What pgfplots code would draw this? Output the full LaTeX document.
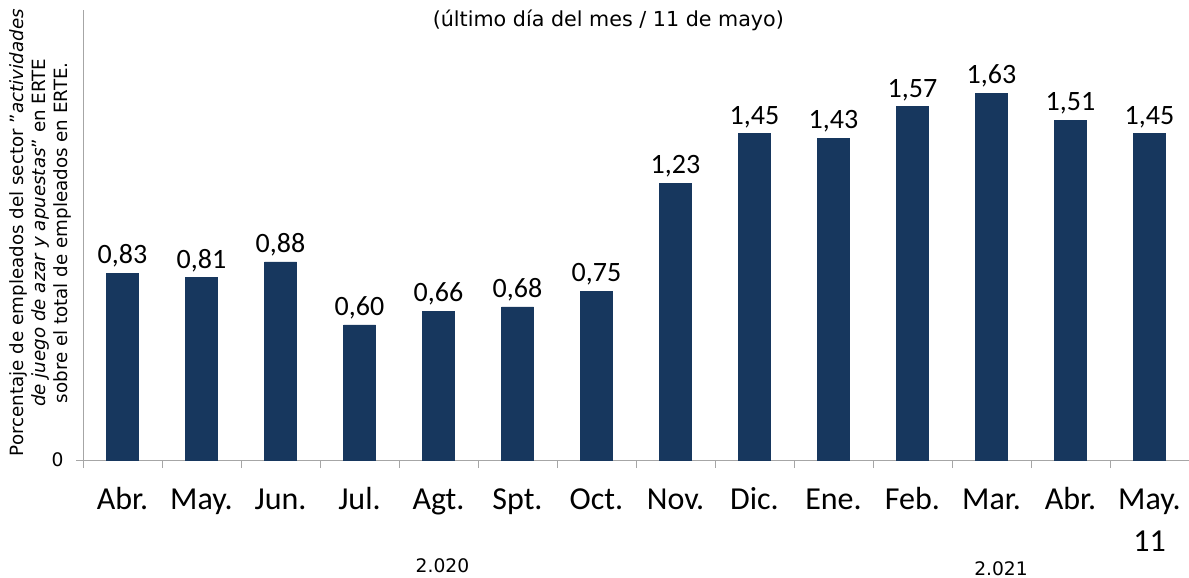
\documentclass[border=0pt]{standalone}
\usepackage{pgfplots}
\pgfplotsset{compat=1.18}
\usepackage{fontspec}
\setmainfont{DejaVu Sans}
\newfontfamily\carlito{Carlito}
\definecolor{barblue}{HTML}{17375E}
\definecolor{axisgray}{HTML}{A6A6A6}
\begin{document}
\begin{tikzpicture}
\begin{axis}[
  at={(62.25pt,88.5pt)}, anchor=south west,
  scale only axis, width=829.5pt, height=337.5pt,
  xmin=-0.5, xmax=13.5, ymin=0, ymax=2,
  ybar, bar width=24pt,
  axis x line*=bottom, axis y line*=left,
  axis line style={axisgray, line width=0.75pt},
  xtick={0,...,13},
  xticklabels={Abr.\strut,May.\strut,Jun.\strut,Jul.\strut,Agt.\strut,Spt.\strut,Oct.\strut,Nov.\strut,Dic.\strut,Ene.\strut,Feb.\strut,Mar.\strut,Abr.\strut,{May.\strut\\11}},
  xticklabel style={font=\carlito\fontsize{24}{32}\selectfont, align=center, yshift=-6pt},
  major x tick style={draw=none},
  minor xtick={-0.5,0.5,...,12.5},
  tick align=outside,
  minor tick length=6pt, major tick length=5pt,
  minor x tick style={axisgray, line width=0.75pt},
  major y tick style={axisgray, line width=0.75pt},
  ytick={0},
  yticklabel style={font=\fontsize{14}{16}\selectfont, xshift=-6pt, /pgf/number format/assume math mode=true},
  ylabel={Porcentaje de empleados del sector "\textit{actividades}\\ \textit{de juego de azar y apuestas}" en ERTE\\ sobre el total de empleados en ERTE.},
  ylabel style={align=center, font=\fontsize{13.7}{16.5}\selectfont, at={(axis description cs:-0.0389,0.505)}, anchor=center},
  clip=false,
  nodes near coords,
  nodes near coords style={font=\carlito\fontsize{21}{21}\selectfont, text=black, yshift=1pt,
    /pgf/number format/.cd, fixed, fixed zerofill, precision=2, use comma, assume math mode=true},
]
\addplot[fill=barblue, draw=barblue] coordinates {
(0,0.83) (1,0.81) (2,0.88) (3,0.60) (4,0.66) (5,0.68) (6,0.75)
(7,1.23) (8,1.45) (9,1.43) (10,1.57) (11,1.63) (12,1.51) (13,1.45)};
\node[font=\fontsize{15.5}{18}\selectfont] at (rel axis cs:0.475,0.978) {(último día del mes / 11 de mayo)};
\node[font=\fontsize{14}{16}\selectfont] at (axis cs:4.05,-0.47) {2.020};
\node[font=\fontsize{14}{16}\selectfont] at (axis cs:11.12,-0.483) {2.021};
\end{axis}
\pgfresetboundingbox
\path (0,0) rectangle (891.75pt,433.5pt);
\end{tikzpicture}
\end{document}
